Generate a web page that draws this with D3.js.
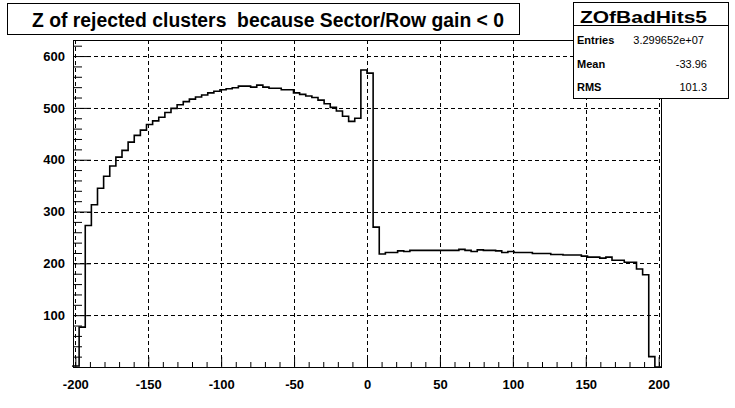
<!DOCTYPE html>
<html>
<head>
<meta charset="utf-8">
<script src="https://cdn.jsdelivr.net/npm/d3@7"></script>
<style>
    body { margin: 0; background: #fff; }
    svg { display: block; font-family: "Liberation Sans", Arial, Helvetica, sans-serif; }
</style>
</head>
<body>
<div id="root-graph"></div>
<script>
var histTitle = 'Z of rejected clusters  because Sector/Row gain < 0';
var histName = 'ZOfBadHits5';
var xRange = [-201.6, 201.6];
var yRange = [0, 631];
// bin contents, 96 bins (left to right)
var binCounts = [
    2, 77, 273, 313, 345, 368, 388, 405, 418, 434,
    447, 457, 468, 475, 482, 491, 499, 506, 512, 517,
    521, 525, 529, 532, 535, 537, 539, 542, 542, 540,
    544, 540, 538, 538, 535, 535, 529, 526, 523, 520,
    515, 508, 501, 494, 484, 474, 480, 573, 567, 270,
    218, 221, 221, 224, 223, 225, 225, 225, 225, 225,
    225, 225, 225, 227, 225, 223, 226, 225, 225, 224,
    221, 223, 221, 221, 221, 219, 219, 219, 217, 217,
    216, 216, 216, 214, 212, 212, 210, 212, 206, 206,
    202, 202, 189, 178, 20, 0
];
var xTickValues = [-200, -150, -100, -50, 0, 50, 100, 150, 200];
var yTickValues = [100, 200, 300, 400, 500, 600];
var statNames = ['Entries', 'Mean', 'RMS'];
var statValues = ['3.299652e+07', '-33.96', '101.3'];

var canvas = {width: 735, height: 408};
var frame = {left: 73, right: 661, top: 40, bottom: 367};

var createGraph = function createGraph() {
    var svg = d3.select('div#root-graph').append('svg')
                .attr('width', canvas.width)
                .attr('height', canvas.height);

    svg.append('rect')
       .attr('width', canvas.width)
       .attr('height', canvas.height)
       .attr('fill', '#fff');

    var x = d3.scaleLinear()
              .domain(xRange)
              .range([frame.left, frame.right]);

    var y = d3.scaleLinear()
              .domain(yRange)
              .range([frame.bottom, frame.top]);

    createGrid(svg, x, y);
    createHistogram(svg, x, y);
    createAxis(svg, x, y);
    createTitle(svg);
    createStats(svg);
}

var createGrid = function createGrid(svg, x, y) {
    var grid = svg.append('g')
                  .attr('stroke', '#000')
                  .attr('stroke-width', 1)
                  .attr('stroke-dasharray', '4,3');

    grid.selectAll('line.vgrid')
        .data(xTickValues)
        .enter().append('line')
            .attr('class', 'vgrid')
            .attr('x1', function(d) { return Math.round(x(d)) + 0.5; })
            .attr('x2', function(d) { return Math.round(x(d)) + 0.5; })
            .attr('y1', frame.top)
            .attr('y2', frame.bottom);

    grid.selectAll('line.hgrid')
        .data(yTickValues)
        .enter().append('line')
            .attr('class', 'hgrid')
            .attr('x1', frame.left)
            .attr('x2', frame.right)
            .attr('y1', function(d) { return Math.round(y(d)) + 0.5; })
            .attr('y2', function(d) { return Math.round(y(d)) + 0.5; });
}

var createHistogram = function createHistogram(svg, x, y) {
    // step outline: up and across every bin, then back down to zero
    var binWidth = (xRange[1] - xRange[0]) / binCounts.length;
    var points = [[xRange[0], 0]];
    binCounts.forEach(function(count, i) {
        points.push([xRange[0] + i * binWidth, count]);
        points.push([xRange[0] + (i + 1) * binWidth, count]);
    });
    points.push([xRange[1], 0]);

    var line = d3.line()
                 .x(function(d) { return x(d[0]); })
                 .y(function(d) { return y(d[1]); });

    svg.append('path')
       .datum(points)
       .attr('d', line)
       .attr('fill', 'none')
       .attr('stroke', '#000')
       .attr('stroke-width', 1.6);
}

var createAxis = function createAxis(svg, x, y) {
    var xMinor = d3.range(-200, 201, 10).filter(function(d) { return d % 50 !== 0; });
    var yMinor = d3.range(20, 631, 20).filter(function(d) { return d % 100 !== 0; });
    // plain hyphen for negatives, like the original
    var plain = function(d) { return String(d); };

    var xAxis = d3.axisBottom(x)
                  .tickValues(xTickValues)
                  .tickFormat(plain)
                  .tickSizeInner(-10)
                  .tickSizeOuter(0)
                  .tickPadding(13);

    var xMinorAxis = d3.axisBottom(x)
                       .tickValues(xMinor)
                       .tickSizeInner(-5)
                       .tickSizeOuter(0)
                       .tickFormat('');

    var yAxis = d3.axisLeft(y)
                  .tickValues(yTickValues)
                  .tickFormat(plain)
                  .tickSizeInner(-18)
                  .tickSizeOuter(0)
                  .tickPadding(8);

    var yMinorAxis = d3.axisLeft(y)
                       .tickValues(yMinor)
                       .tickSizeInner(-9)
                       .tickSizeOuter(0)
                       .tickFormat('');

    [
        svg.append('g').attr('transform', 'translate(0, ' + frame.bottom + ')').call(xAxis),
        svg.append('g').attr('transform', 'translate(0, ' + frame.bottom + ')').call(xMinorAxis),
        svg.append('g').attr('transform', 'translate(' + frame.left + ', 0)').call(yAxis),
        svg.append('g').attr('transform', 'translate(' + frame.left + ', 0)').call(yMinorAxis)
    ].forEach(function(g) {
        g.select('.domain').remove();
        g.selectAll('line').attr('stroke', '#000').attr('stroke-width', 1);
        g.selectAll('text')
         .attr('fill', '#000')
         .style('font-family', '"Liberation Sans", Arial, sans-serif')
         .style('font-size', '13px')
         .style('font-weight', 'bold');
    });

    svg.append('rect')
       .attr('x', frame.left + 0.5)
       .attr('y', frame.top + 0.5)
       .attr('width', frame.right - frame.left)
       .attr('height', frame.bottom - frame.top)
       .attr('fill', 'none')
       .attr('stroke', '#000')
       .attr('stroke-width', 1);
}

var createTitle = function createTitle(svg) {
    svg.append('rect')
       .attr('x', 7.5)
       .attr('y', 3.5)
       .attr('width', 512)
       .attr('height', 31)
       .attr('fill', '#fff')
       .attr('stroke', '#000');

    svg.append('text')
       .attr('x', 32)
       .attr('y', 27)
       .attr('textLength', 472)
       .attr('lengthAdjust', 'spacingAndGlyphs')
       .style('white-space', 'pre')
       .style('font-size', '19.5px')
       .style('font-weight', 'bold')
       .text(histTitle);
}

var createStats = function createStats(svg) {
    var box = {x: 573.5, y: 2.5, width: 155, height: 96, header: 25};

    svg.append('rect')
       .attr('x', box.x)
       .attr('y', box.y)
       .attr('width', box.width)
       .attr('height', box.height)
       .attr('fill', '#fff')
       .attr('stroke', '#000');

    svg.append('line')
       .attr('x1', box.x)
       .attr('x2', box.x + box.width)
       .attr('y1', box.header + 0.5)
       .attr('y2', box.header + 0.5)
       .attr('stroke', '#000');

    svg.append('text')
       .attr('x', 580)
       .attr('y', 23)
       .attr('textLength', 127)
       .attr('lengthAdjust', 'spacingAndGlyphs')
       .style('font-size', '16px')
       .style('font-weight', 'bold')
       .text(histName);

    var rows = svg.append('g').selectAll('g')
                  .data(statNames)
                  .enter().append('g')
                      .attr('transform', function(d, i) {
                          return 'translate(0, ' + (44 + i * 23.5) + ')';
                      });

    rows.append('text')
        .attr('x', 577)
        .style('font-size', '11px')
        .style('font-weight', 'bold')
        .text(function(d) { return d; });

    rows.append('text')
        .attr('x', function(d, i) { return i === 0 ? 704 : 707; })
        .attr('text-anchor', 'end')
        .style('font-size', '11px')
        .text(function(d, i) { return statValues[i]; });
}

createGraph();
</script>
</body>
</html>
